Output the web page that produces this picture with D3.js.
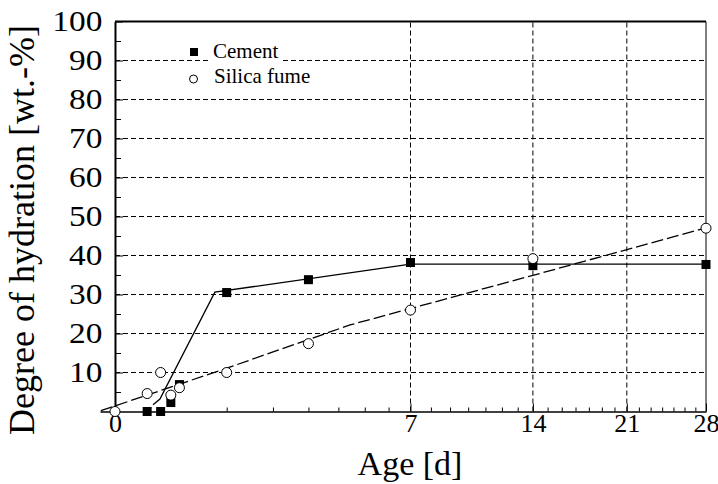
<!DOCTYPE html>
<html>
<head>
<meta charset="UTF-8">
<title>Degree of hydration</title>
<style>
body { margin: 0; background: #fff; }
svg { display: block; font-family: "Liberation Serif", "Times New Roman", serif; }
.grid line { stroke: #000; stroke-width: 1; stroke-dasharray: 5,3; }
.axis path, .axis line { stroke: #000; }
.axis text { fill: #000; }
</style>
<script src="https://cdn.jsdelivr.net/npm/d3@7/dist/d3.min.js"></script>
</head>
<body>
<div id="chart"></div>
<script>
// measured data (age in days, degree of hydration in wt.-%)
var cementAge   = [0.083, 0.167, 0.25, 0.333, 1, 3, 7, 14, 28];
var cementValue = [0, 0, 2.3, 6.9, 30.5, 33.8, 38.2, 37.4, 37.7];

var silicaAge   = [0, 0.083, 0.167, 0.25, 0.333, 1, 3, 7, 14, 28];
var silicaValue = [0, 4.6, 10.0, 4.2, 6.1, 10.0, 17.4, 26.0, 39.2, 47.0];

// fitted curves
var cementFitAge   = [0.116, 0.162, 0.80, 7, 28];
var cementFitValue = [1.7, 3.2, 30.6, 37.8, 37.8];

var silicaFitAge   = [-0.016, 1, 4.43, 14, 28];
var silicaFitValue = [0.2, 11.1, 22.2, 34.9, 47.1];

var xMajor = [0, 7, 14, 21, 28];
var yMajor = [10, 20, 30, 40, 50, 60, 70, 80, 90, 100];

(function() {
  var width = 718, height = 484;
  var pLeft = 100, pRight = 706, pTop = 21.5, pBottom = 411.5;
  var serif = "'Liberation Serif', 'Times New Roman', serif";

  var svg = d3.select("#chart").append("svg")
      .attr("width", width)
      .attr("height", height);

  // square-root age axis, starts a little before day 0
  var x = d3.scaleSqrt().domain([-0.018, 28]).range([pLeft, pRight]);
  var y = d3.scaleLinear().domain([0, 100]).range([pBottom, pTop]);
  var x0 = x(0);

  // grid
  var grid = svg.append("g").attr("class", "grid");
  grid.selectAll("line.h")
      .data(yMajor.filter(function(d) { return d < 100; }))
      .enter().append("line")
      .attr("x1", x0).attr("x2", pRight)
      .attr("y1", function(d) { return y(d); })
      .attr("y2", function(d) { return y(d); });
  grid.selectAll("line.v")
      .data([7, 14, 21])
      .enter().append("line")
      .attr("x1", function(d) { return x(d); })
      .attr("x2", function(d) { return x(d); })
      .attr("y1", pBottom).attr("y2", pTop);

  // frame top / right
  svg.append("line").attr("x1", x0).attr("x2", pRight).attr("y1", pTop).attr("y2", pTop)
      .attr("stroke", "#000").attr("stroke-width", 2);
  svg.append("line").attr("x1", pRight).attr("x2", pRight).attr("y1", pTop).attr("y2", pBottom)
      .attr("stroke", "#000").attr("stroke-width", 1);

  // x axis
  var xAxis = svg.append("g").attr("class", "axis")
      .attr("transform", "translate(0," + pBottom + ")")
      .call(d3.axisBottom(x).tickValues(xMajor).tickSize(-8).tickPadding(2).tickSizeOuter(0));
  xAxis.select(".domain").attr("stroke", "#333").attr("stroke-width", 1.5);
  xAxis.selectAll("text").style("font-family", serif).style("font-size", "26px");

  var minorDays = d3.range(1, 28).filter(function(d) { return d % 7 !== 0; });
  svg.append("g").attr("class", "axis")
      .attr("transform", "translate(0," + pBottom + ")")
      .call(d3.axisBottom(x).tickValues(minorDays).tickSize(-4).tickFormat("").tickSizeOuter(0))
      .select(".domain").remove();

  // y axis sits on day 0
  var yAxis = svg.append("g").attr("class", "axis")
      .attr("transform", "translate(" + x0 + ",0)")
      .call(d3.axisLeft(y).tickValues(yMajor).tickSize(-8).tickPadding(12).tickSizeOuter(0));
  yAxis.select(".domain").attr("stroke-width", 2);
  yAxis.selectAll("text")
      .style("font-family", serif)
      .style("font-size", "29px")
      .attr("x", -11)
      .attr("transform", "scale(1.15,1)");

  svg.append("g").attr("class", "axis")
      .attr("transform", "translate(" + x0 + ",0)")
      .call(d3.axisLeft(y).tickValues(d3.range(5, 100, 10)).tickSize(-6).tickFormat("").tickSizeOuter(0))
      .select(".domain").remove();

  // axis titles
  svg.append("text")
      .attr("x", 410).attr("y", 475)
      .attr("text-anchor", "middle")
      .style("font-family", serif)
      .style("font-size", "34px")
      .text("Age [d]");

  svg.append("text")
      .attr("transform", "translate(34,230) rotate(-90)")
      .attr("text-anchor", "middle")
      .style("font-family", serif)
      .style("font-size", "36px")
      .text("Degree of hydration [wt.-%]");

  // fit lines
  var line = d3.line()
      .x(function(d) { return x(d[0]); })
      .y(function(d) { return y(d[1]); });

  svg.append("path")
      .datum(d3.zip(cementFitAge, cementFitValue))
      .attr("d", line)
      .attr("fill", "none")
      .attr("stroke", "#000")
      .attr("stroke-width", 1.3);

  svg.append("path")
      .datum(d3.zip(silicaFitAge, silicaFitValue))
      .attr("d", line)
      .attr("fill", "none")
      .attr("stroke", "#000")
      .attr("stroke-width", 1.3)
      .attr("stroke-dasharray", "12,4");

  // markers
  var sq = 9;
  svg.append("g").selectAll("rect")
      .data(d3.zip(cementAge, cementValue))
      .enter().append("rect")
      .attr("x", function(d) { return x(d[0]) - sq / 2; })
      .attr("y", function(d) { return y(d[1]) - sq / 2; })
      .attr("width", sq).attr("height", sq)
      .attr("fill", "#000");

  svg.append("g").selectAll("circle")
      .data(d3.zip(silicaAge, silicaValue))
      .enter().append("circle")
      .attr("cx", function(d) { return x(d[0]); })
      .attr("cy", function(d) { return y(d[1]); })
      .attr("r", 5)
      .attr("fill", "#fff")
      .attr("stroke", "#000")
      .attr("stroke-width", 1);

  // legend
  var legend = svg.append("g").style("font-family", serif);
  legend.append("rect").attr("x", 210).attr("y", 40).attr("width", 72).attr("height", 24).attr("fill", "#fff");
  legend.append("rect").attr("x", 190).attr("y", 48).attr("width", 8).attr("height", 8).attr("fill", "#000");
  legend.append("text").attr("x", 213).attr("y", 58).style("font-size", "21px").text("Cement");
  legend.append("circle").attr("cx", 193.5).attr("cy", 79).attr("r", 4).attr("fill", "#fff").attr("stroke", "#000");
  legend.append("text").attr("x", 214).attr("y", 83).style("font-size", "21px").text("Silica fume");
})();
</script>
</body>
</html>
